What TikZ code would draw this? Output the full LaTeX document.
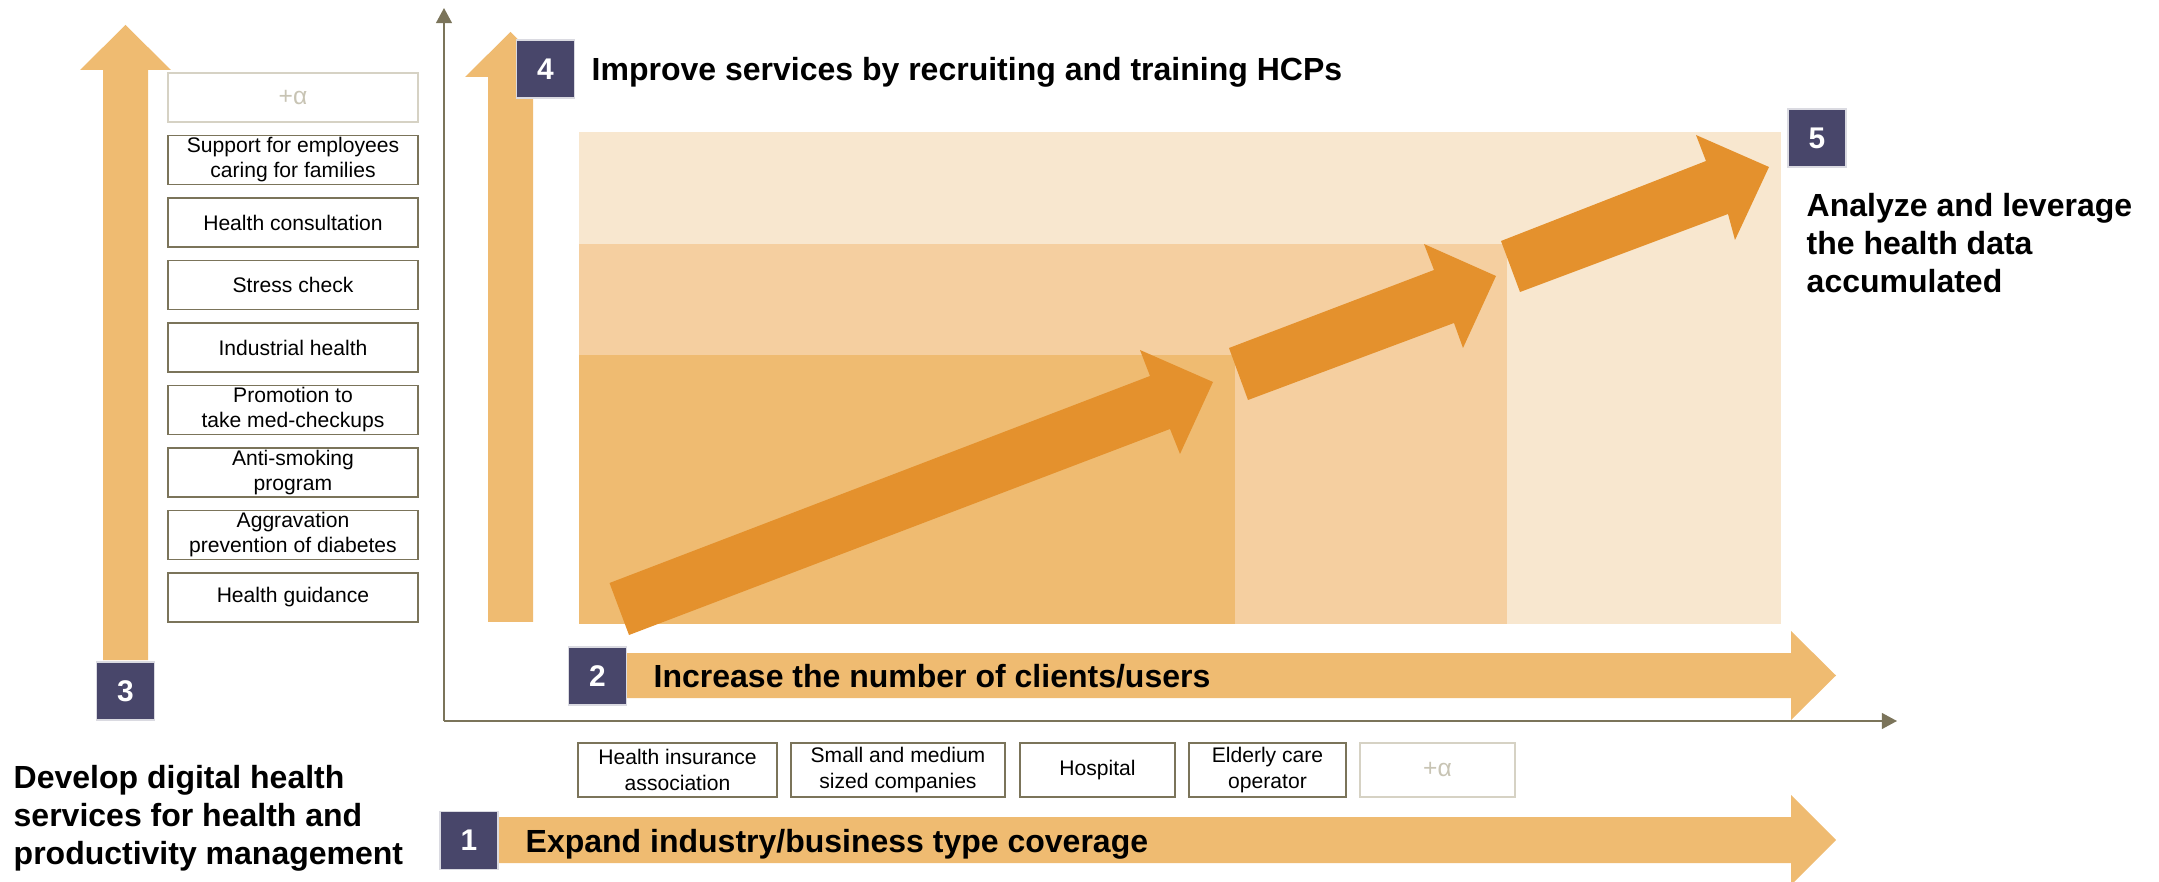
\documentclass[tikz,border=0pt]{standalone}
\usepackage{fontspec}
\setmainfont{Liberation Sans}
\usetikzlibrary{arrows.meta}
\definecolor{arr}{HTML}{EFBB71}
\definecolor{dorange}{HTML}{E4912D}
\definecolor{pdark}{HTML}{EFBB71}
\definecolor{pmid}{HTML}{F5CFA0}
\definecolor{plight}{HTML}{F8E7CF}
\definecolor{navy}{HTML}{48466A}
\definecolor{boxline}{HTML}{7B745A}
\definecolor{faint}{HTML}{D6D2C4}
\definecolor{fainttext}{HTML}{C8C4B4}
\begin{document}
\begin{tikzpicture}[x=0.01cm,y=-0.01cm,
  svc/.style={draw=boxline, line width=0.45pt, fill=white, minimum width=2.5cm, minimum height=0.49cm, inner sep=0pt, align=center, font=\fontsize{6}{7.1}\selectfont},
  ind/.style={draw=boxline, line width=0.45pt, fill=white, minimum height=0.54cm, inner sep=0pt, align=center, font=\fontsize{6}{7.6}\selectfont},
  fbox/.style={draw=faint, text=fainttext, font=\fontsize{7}{8}\selectfont},
  numbox/.style={fill=navy, draw=white!80!navy, line width=0.3pt, text=white, font=\fontsize{8.5}{10}\selectfont\bfseries, minimum width=0.58cm, minimum height=0.58cm, inner sep=0pt},
  head/.style={font=\fontsize{9.1}{10.8}\selectfont\bfseries, inner sep=0pt, align=left},
  axis/.style={draw=boxline, line width=0.5pt, -{Triangle[length=4.3pt,width=4.5pt]}},
]
\useasboundingbox (0,0) rectangle (2159,882);
% background panels
\fill[plight] (579,132) rectangle (1781,624);
\fill[pmid] (579,244) rectangle (1507,624);
\fill[pdark] (579,355) rectangle (1235,624);
% vertical block arrows
\fill[arr] (103,660) -- (103,70) -- (80,70) -- (125.5,25) -- (171,70) -- (148,70) -- (148,660) -- cycle;
\fill[arr] (488,622) -- (488,77) -- (465,77) -- (510.5,32) -- (556,77) -- (533,77) -- (533,622) -- cycle;
% horizontal block arrows
\fill[arr] (627,653) -- (1791,653) -- (1791,631) -- (1836,675.5) -- (1791,720) -- (1791,698) -- (627,698) -- cycle;
\fill[arr] (498,817) -- (1791,817) -- (1791,795) -- (1836,840) -- (1791,885) -- (1791,863) -- (498,863) -- cycle;
% diagonal growth arrows
\fill[dorange] (609.5,583) -- (1150,376) -- (1140,350) -- (1213,382) -- (1180,454) -- (1170,429) -- (629,635) -- cycle;
\fill[dorange] (1229,348) -- (1434,270) -- (1424,244) -- (1496,276) -- (1463,348) -- (1454,323) -- (1248,400) -- cycle;
\fill[dorange] (1501,241) -- (1706,161) -- (1696,135) -- (1769,167) -- (1735,240) -- (1728,214) -- (1520,292) -- cycle;
% axes
\coordinate (o) at (444,721);
\coordinate (ytop) at (444,8);
\coordinate (xend) at (1897,721);
\draw[axis] (o) -- (ytop);
\draw[axis] (o) -- (xend);
% service boxes
\node[svc, fbox] (sa) at (293,97.5) {+α};
\node[svc] (s1) at (293,160) {Support for employees\\caring for families};
\node[svc] (s2) at (293,222.5) {Health consultation};
\node[svc] (s3) at (293,285) {Stress check};
\node[svc] (s4) at (293,347.5) {Industrial health};
\node[svc] (s5) at (293,410) {Promotion to\\take med-checkups};
\node[svc] (s6) at (293,472.5) {Anti-smoking\\program};
\node[svc] (s7) at (293,535) {Aggravation\\prevention of diabetes};
\node[svc] (s8) at (293,597.5) {Health guidance};
% industry boxes
\node[ind, minimum width=1.99cm] (i1) at (677.5,770) {Health insurance\\association};
\node[ind, minimum width=2.14cm] (i2) at (898,770) {Small and medium\\sized companies};
\node[ind, minimum width=1.55cm] (i3) at (1097.5,770) {Hospital};
\node[ind, minimum width=1.57cm] (i4) at (1267.5,770) {Elderly care\\operator};
\node[ind, fbox, minimum width=1.55cm] (i5) at (1437.5,770) {+α};
% number boxes
\node[numbox] (n3) at (125.5,691) {3};
\node[numbox] (n4) at (545.5,69) {4};
\node[numbox] (n5) at (1817,138) {5};
\node[numbox] (n2) at (597.5,676) {2};
\node[numbox] (n1) at (469,840.5) {1};
% headings
\node[head, anchor=base west] (t4) at (591,81) {Improve services by recruiting and training HCPs};
\node[head, anchor=base west] (t2) at (653,688) {Increase the number of clients/users};
\node[head, anchor=base west] (t1) at (525,852) {Expand industry/business type coverage};
\node[head, anchor=north west] (t5) at (1806,192.5) {Analyze and leverage\\the health data\\accumulated};
\node[head, anchor=north west] (t3) at (13,764.5) {Develop digital health\\services for health and\\productivity management};
\end{tikzpicture}
\end{document}
